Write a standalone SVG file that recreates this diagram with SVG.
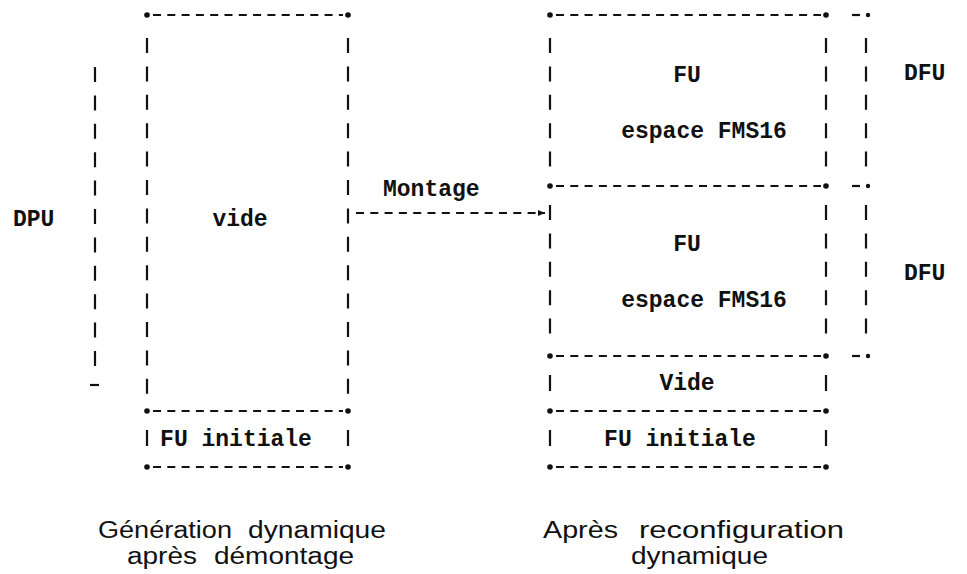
<svg xmlns="http://www.w3.org/2000/svg" width="967" height="574" viewBox="0 0 967 574">
<style>
.hb{stroke:#111;stroke-width:2.2;stroke-dasharray:8 6.3;fill:none}
.vb{stroke:#111;stroke-width:2.2;stroke-dasharray:15 13.4;fill:none}
.sb{stroke:#111;stroke-width:2.2;fill:none}
.st{fill:#111}
.m{font-family:"Liberation Mono","Courier New",monospace;font-weight:bold;font-size:23px;fill:#111}
.c{font-family:"Liberation Sans",Arial,sans-serif;font-size:23px;fill:#111}
</style>
<defs>
<marker id="ah" markerWidth="8" markerHeight="8" refX="7" refY="4" orient="auto" markerUnits="userSpaceOnUse">
<path d="M0,1 L7,4 L0,7 Z" fill="#111"/>
</marker>
</defs>
<rect width="967" height="574" fill="#fff"/>

<g id="dpu">
<line class="vb" x1="95" y1="67" x2="95" y2="369"/>
<line class="sb" x1="90" y1="385" x2="99" y2="385"/>
<text class="m" x="13" y="226">DPU</text>
</g>

<g id="left-vide">
<line class="hb" x1="153" y1="15" x2="343" y2="15"/>
<circle class="st" cx="147" cy="15" r="2.8"/>
<circle class="st" cx="348" cy="15" r="2.8"/>
<line class="vb" x1="147" y1="38" x2="147" y2="396"/>
<line class="vb" x1="348" y1="38" x2="348" y2="396"/>
<line class="hb" x1="153" y1="411" x2="343" y2="411"/>
<circle class="st" cx="147" cy="411" r="2.8"/>
<circle class="st" cx="348" cy="411" r="2.8"/>
<text class="m" x="240" y="226" text-anchor="middle">vide</text>
</g>

<g id="left-fu-initiale">
<line class="sb" x1="147" y1="430" x2="147" y2="446"/>
<line class="sb" x1="348" y1="430" x2="348" y2="446"/>
<line class="hb" x1="153" y1="467" x2="343" y2="467"/>
<circle class="st" cx="147" cy="467" r="2.8"/>
<circle class="st" cx="348" cy="467" r="2.8"/>
<text class="m" x="236" y="446" text-anchor="middle">FU initiale</text>
</g>

<g id="right-fu-1">
<line class="hb" x1="556" y1="15" x2="821" y2="15"/>
<circle class="st" cx="550" cy="15" r="2.8"/>
<circle class="st" cx="826" cy="15" r="2.8"/>
<line class="vb" x1="550" y1="38" x2="550" y2="170"/>
<line class="vb" x1="826" y1="38" x2="826" y2="170"/>
<text class="m" x="687" y="82" text-anchor="middle">FU</text>
<text class="m" x="704" y="138" text-anchor="middle">espace FMS16</text>
</g>

<g id="right-fu-2">
<line class="hb" x1="556" y1="186" x2="821" y2="186"/>
<circle class="st" cx="550" cy="186" r="2.8"/>
<circle class="st" cx="826" cy="186" r="2.8"/>
<line class="vb" x1="550" y1="205" x2="550" y2="337"/>
<line class="vb" x1="826" y1="205" x2="826" y2="337"/>
<text class="m" x="687" y="251" text-anchor="middle">FU</text>
<text class="m" x="704" y="307" text-anchor="middle">espace FMS16</text>
</g>

<g id="right-vide">
<line class="hb" x1="556" y1="356" x2="821" y2="356"/>
<circle class="st" cx="550" cy="356" r="2.8"/>
<circle class="st" cx="826" cy="356" r="2.8"/>
<line class="sb" x1="550" y1="375" x2="550" y2="391"/>
<line class="sb" x1="826" y1="375" x2="826" y2="391"/>
<text class="m" x="687" y="390" text-anchor="middle">Vide</text>
</g>

<g id="right-fu-initiale">
<line class="hb" x1="556" y1="411" x2="821" y2="411"/>
<circle class="st" cx="550" cy="411" r="2.8"/>
<circle class="st" cx="826" cy="411" r="2.8"/>
<line class="sb" x1="550" y1="430" x2="550" y2="446"/>
<line class="sb" x1="826" y1="430" x2="826" y2="446"/>
<line class="hb" x1="556" y1="467" x2="821" y2="467"/>
<circle class="st" cx="550" cy="467" r="2.8"/>
<circle class="st" cx="826" cy="467" r="2.8"/>
<text class="m" x="680" y="446" text-anchor="middle">FU initiale</text>
</g>

<g id="dfu-1">
<line class="sb" x1="852" y1="15" x2="860" y2="15"/>
<circle class="st" cx="868" cy="15" r="2.2"/>
<line class="vb" x1="866" y1="38" x2="866" y2="170"/>
<line class="sb" x1="852" y1="186" x2="860" y2="186"/>
<circle class="st" cx="868" cy="186" r="2.2"/>
<text class="m" x="904" y="80">DFU</text>
</g>

<g id="dfu-2">
<line class="vb" x1="866" y1="205" x2="866" y2="337"/>
<line class="sb" x1="852" y1="356" x2="860" y2="356"/>
<circle class="st" cx="868" cy="356" r="2.2"/>
<text class="m" x="904" y="280">DFU</text>
</g>

<g id="connectors">
<line class="hb" x1="356" y1="213" x2="545" y2="213" marker-end="url(#ah)"/>
<text class="m" x="383" y="196">Montage</text>
</g>

<g id="captions">
<text class="c" x="98" y="538" textLength="134" lengthAdjust="spacingAndGlyphs">Génération</text>
<text class="c" x="248" y="538" textLength="138" lengthAdjust="spacingAndGlyphs">dynamique</text>
<text class="c" x="127" y="564" textLength="70" lengthAdjust="spacingAndGlyphs">après</text>
<text class="c" x="214" y="564" textLength="140" lengthAdjust="spacingAndGlyphs">démontage</text>
<text class="c" x="543" y="538" textLength="75" lengthAdjust="spacingAndGlyphs">Après</text>
<text class="c" x="639" y="538" textLength="205" lengthAdjust="spacingAndGlyphs">reconfiguration</text>
<text class="c" x="631" y="564" textLength="137" lengthAdjust="spacingAndGlyphs">dynamique</text>
</g>
</svg>
